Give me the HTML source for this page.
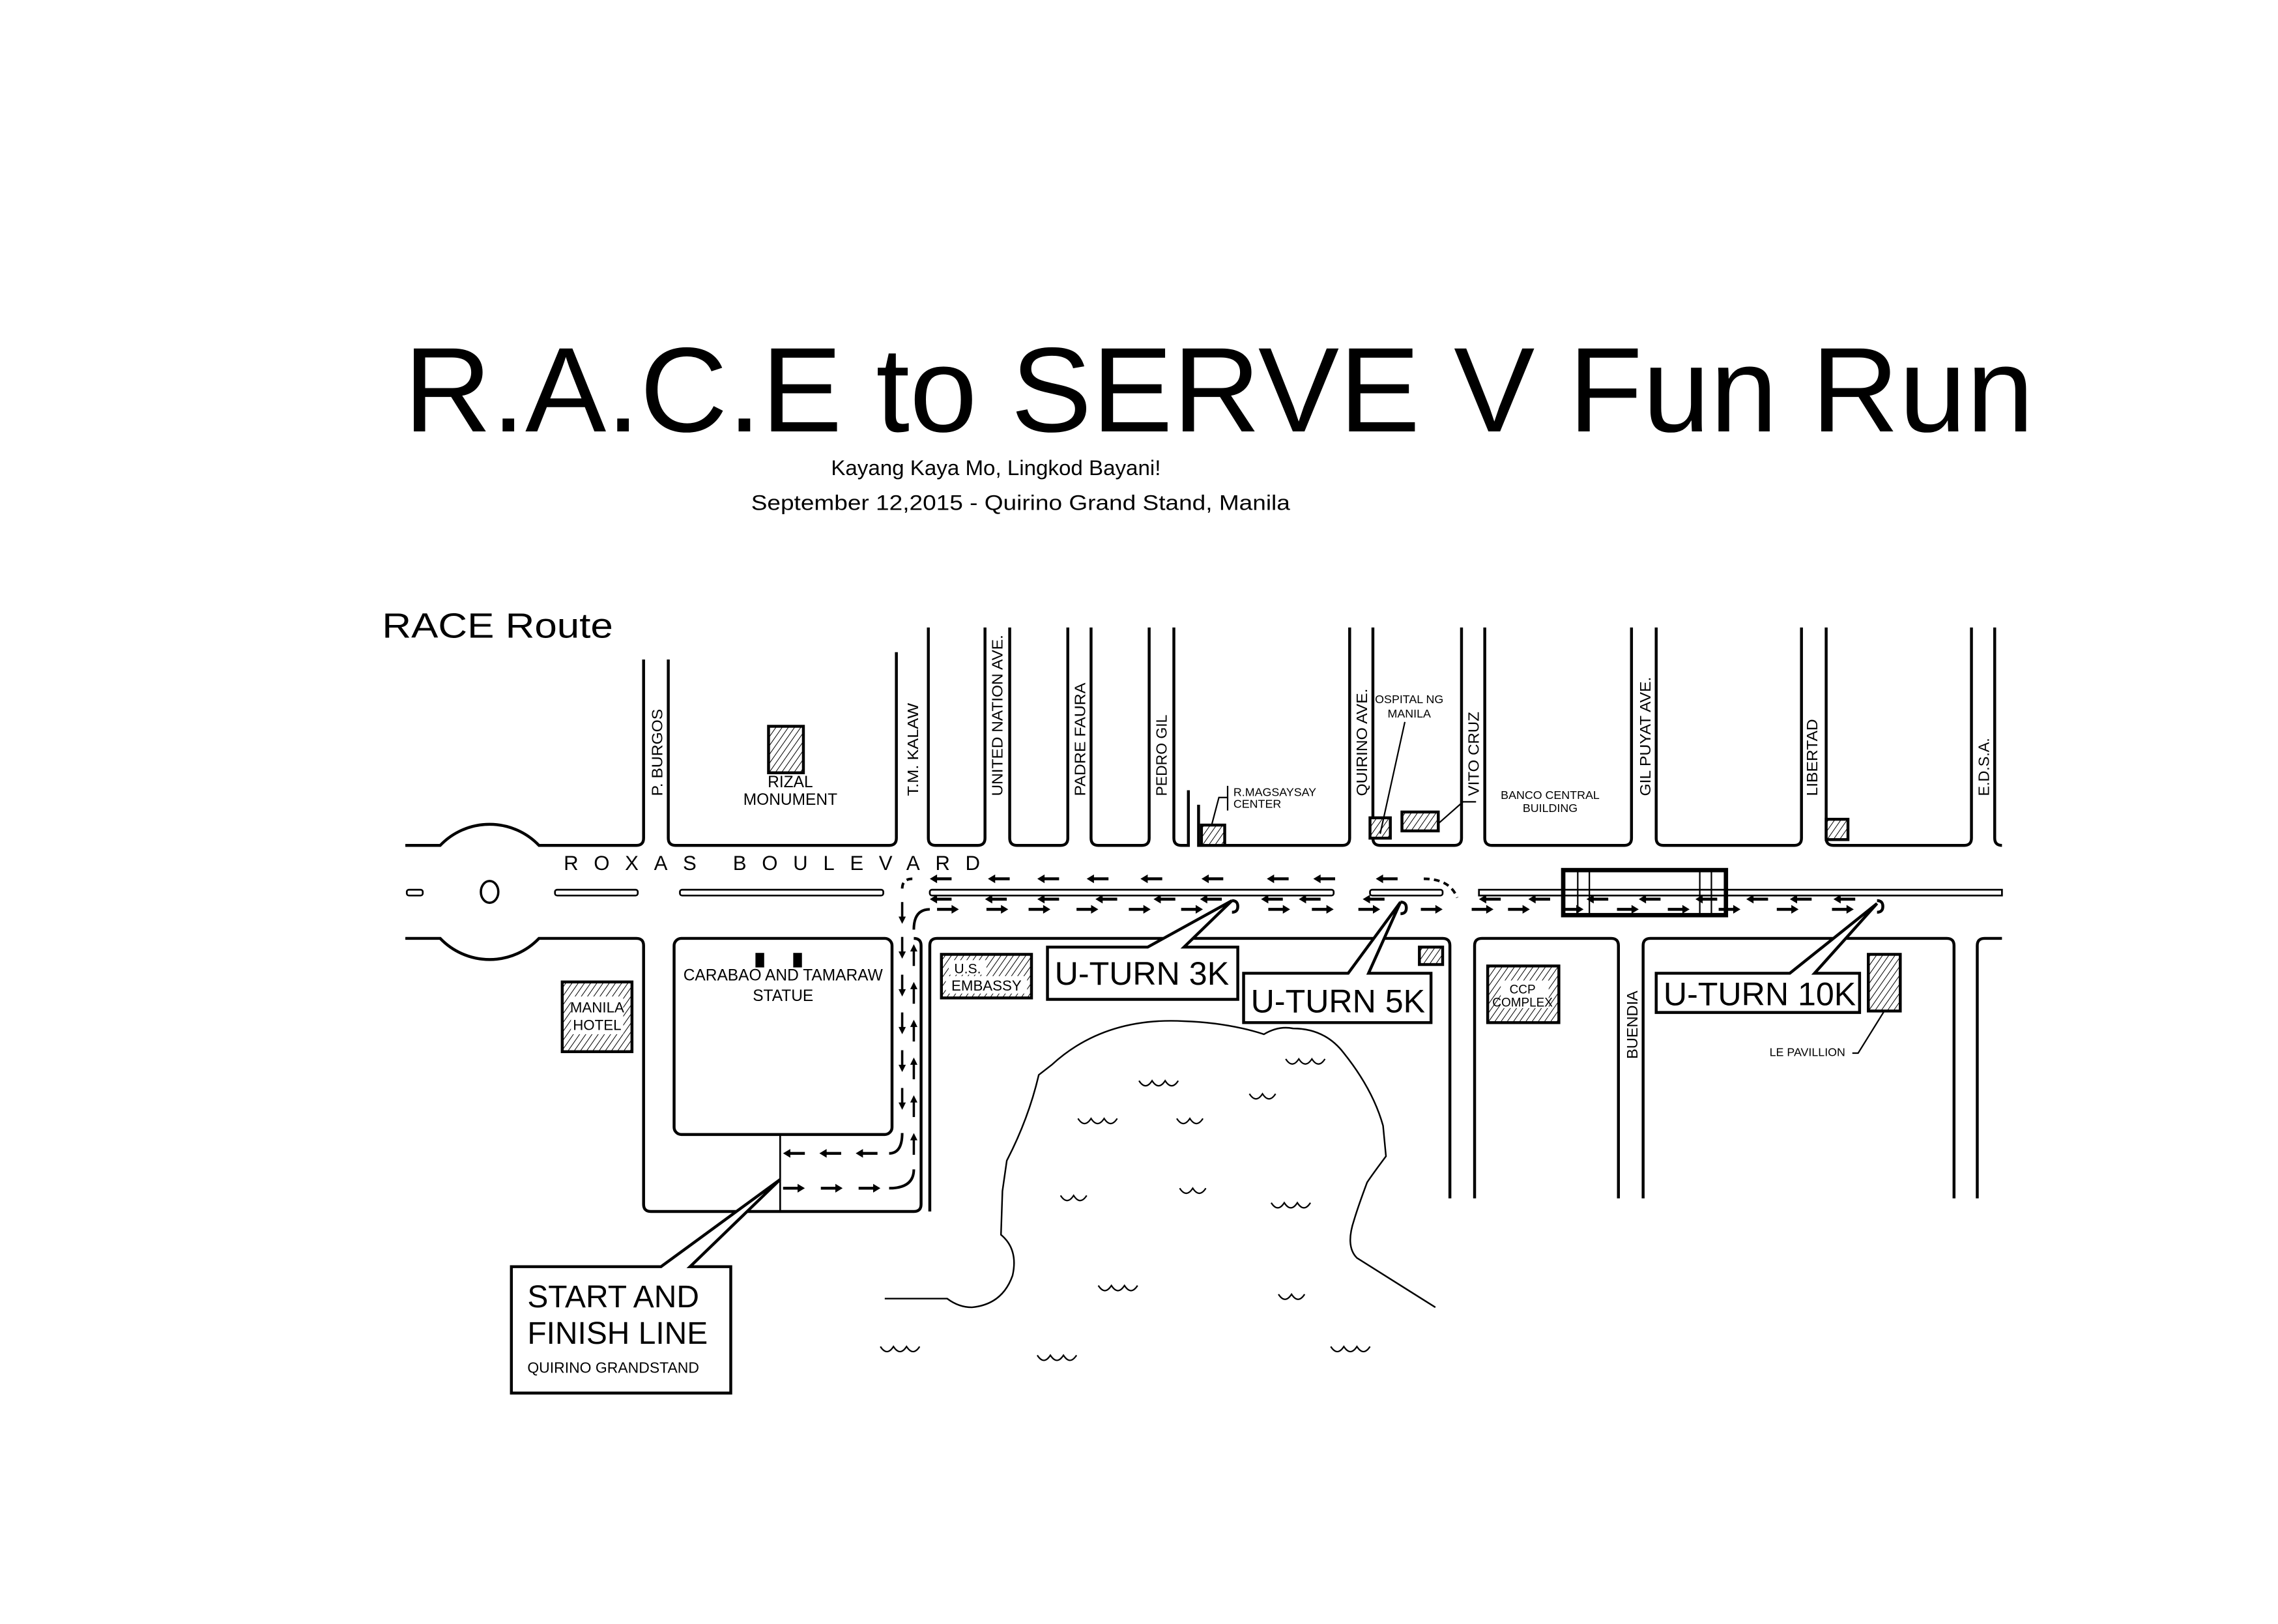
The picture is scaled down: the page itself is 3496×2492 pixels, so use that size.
<!DOCTYPE html>
<html><head><meta charset="utf-8"><style>
html,body{margin:0;padding:0;background:#fff;}
svg{display:block;}
text{font-family:"Liberation Sans",Arial,sans-serif;fill:#000;}
</style></head><body>
<svg xmlns="http://www.w3.org/2000/svg" xmlns:xlink="http://www.w3.org/1999/xlink" width="3496" height="2492" viewBox="0 0 1568 1118" preserveAspectRatio="none">
<defs>
<pattern id="h" patternUnits="userSpaceOnUse" width="3.5" height="3.5" patternTransform="rotate(35)">
<rect width="3.5" height="3.5" fill="#fff"/><line x1="0" y1="0" x2="0" y2="3.5" stroke="#000" stroke-width="0.9"/></pattern>
<g id="aL"><line x1="-4" y1="0" x2="7" y2="0" stroke="#000" stroke-width="2"/><path d="M-8,0 L-3,-3 L-3,3Z" fill="#000"/></g>
<g id="aR"><line x1="-7" y1="0" x2="4" y2="0" stroke="#000" stroke-width="2"/><path d="M8,0 L3,-3 L3,3Z" fill="#000"/></g>
<g id="aD"><line x1="0" y1="-7" x2="0" y2="4" stroke="#000" stroke-width="1.6"/><path d="M0,8 L-2.5,3 L2.5,3Z" fill="#000"/></g>
<g id="aU"><line x1="0" y1="-4" x2="0" y2="7" stroke="#000" stroke-width="1.6"/><path d="M0,-8 L-2.5,-3 L2.5,-3Z" fill="#000"/></g>
<path id="w3" d="M0,0 q4.5,7 9,0 q4.5,7 9,0 q4.5,7 9,0" fill="none" stroke="#000" stroke-width="1"/>
<path id="w2" d="M0,0 q4.5,7 9,0 q4.5,7 9,0" fill="none" stroke="#000" stroke-width="1"/>
</defs>

<!-- Title -->
<text x="278" y="297" font-size="83" textLength="1122" lengthAdjust="spacingAndGlyphs">R.A.C.E to SERVE V Fun Run</text>
<text x="572" y="327" font-size="14.5" textLength="227" lengthAdjust="spacingAndGlyphs">Kayang Kaya Mo, Lingkod Bayani!</text>
<text x="517" y="351" font-size="14.5" textLength="371" lengthAdjust="spacingAndGlyphs">September 12,2015 - Quirino Grand Stand, Manila</text>
<text x="263" y="439" font-size="24" textLength="159" lengthAdjust="spacingAndGlyphs">RACE Route</text>

<g fill="none" stroke="#000" stroke-width="2">
<path d="M279,582 H303 A47,47 0 0 1 371,582 H438 Q443,582 443,577 V454"/>
<path d="M460,454 V577 Q460,582 465,582 H612 Q617,582 617,577 V449"/>
<path d="M639,432 V577 Q639,582 644,582 H673 Q678,582 678,577 V432"/>
<path d="M695,432 V577 Q695,582 700,582 H730 Q735,582 735,577 V432"/>
<path d="M751,432 V577 Q751,582 756,582 H786 Q791,582 791,577 V432"/>
<path d="M808,432 V577 Q808,582 813,582 H818 V544"/>
<path d="M825,554 V582 H924 Q929,582 929,577 V432"/>
<path d="M945,432 V577 Q945,582 950,582 H1001 Q1006,582 1006,577 V432"/>
<path d="M1022,432 V577 Q1022,582 1027,582 H1118 Q1123,582 1123,577 V432"/>
<path d="M1140,432 V577 Q1140,582 1145,582 H1235 Q1240,582 1240,577 V432"/>
<path d="M1257,432 V577 Q1257,582 1262,582 H1352 Q1357,582 1357,577 V432"/>
<path d="M1373,432 V577 Q1373,582 1378,582"/>
<path d="M279,646 H303 A47,47 0 0 0 371,646 H438 Q443,646 443,651 V829 Q443,834 448,834 H629 Q634,834 634,829 V651 Q634,646 629,646"/>
<path d="M640,834 V651 Q640,646 645,646 H993 Q998,646 998,651 V825"/>
<path d="M1015,825 V651 Q1015,646 1020,646 H1109 Q1114,646 1114,651 V825"/>
<path d="M1131,825 V651 Q1131,646 1136,646 H1340 Q1345,646 1345,651 V825"/>
<path d="M1361,825 V651 Q1361,646 1366,646 H1378"/>
<rect x="464" y="646" width="150" height="135" rx="5"/>
<line x1="537" y1="781" x2="537" y2="834" stroke-width="1.2"/>
</g>
<g fill="none" stroke="#000" stroke-width="1.2">
<rect x="280" y="612.5" width="11" height="4" rx="1.5"/>
<rect x="382" y="612.5" width="57" height="4" rx="1.5"/>
<rect x="468" y="612.5" width="140" height="4" rx="1.5"/>
<rect x="640" y="612.5" width="278" height="4" rx="1.5"/>
<rect x="943" y="612.5" width="50" height="4" rx="1.5"/>
<rect x="1018" y="612.5" width="360" height="4"/>
</g>
<ellipse cx="337" cy="614" rx="6" ry="7.5" fill="none" stroke="#000" stroke-width="1.6"/>
<text x="388" y="599" font-size="14" letter-spacing="10.6">ROXAS BOULEVARD</text>

<g fill="none" stroke="#000">
<rect x="1076" y="599" width="112" height="31" stroke-width="3"/>
<line x1="1086" y1="599" x2="1086" y2="630" stroke-width="1"/><line x1="1094" y1="599" x2="1094" y2="630" stroke-width="1"/>
<line x1="1170" y1="599" x2="1170" y2="630" stroke-width="1"/><line x1="1178" y1="599" x2="1178" y2="630" stroke-width="1"/>
</g>

<g font-size="10.5">
<text transform="translate(456,548) rotate(-90)" textLength="60" lengthAdjust="spacingAndGlyphs">P. BURGOS</text>
<text transform="translate(632,548) rotate(-90)" textLength="64" lengthAdjust="spacingAndGlyphs">T.M. KALAW</text>
<text transform="translate(690,548) rotate(-90)" textLength="111" lengthAdjust="spacingAndGlyphs">UNITED NATION AVE.</text>
<text transform="translate(747,548) rotate(-90)" textLength="78" lengthAdjust="spacingAndGlyphs">PADRE FAURA</text>
<text transform="translate(803,548) rotate(-90)" textLength="56" lengthAdjust="spacingAndGlyphs">PEDRO GIL</text>
<text transform="translate(941,548) rotate(-90)" textLength="74" lengthAdjust="spacingAndGlyphs">QUIRINO AVE.</text>
<text transform="translate(1018,548) rotate(-90)" textLength="58" lengthAdjust="spacingAndGlyphs">VITO CRUZ</text>
<text transform="translate(1136,548) rotate(-90)" textLength="82" lengthAdjust="spacingAndGlyphs">GIL PUYAT AVE.</text>
<text transform="translate(1251,548) rotate(-90)" textLength="53" lengthAdjust="spacingAndGlyphs">LIBERTAD</text>
<text transform="translate(1369,548) rotate(-90)" textLength="40" lengthAdjust="spacingAndGlyphs">E.D.S.A.</text>
<text transform="translate(1127,729) rotate(-90)" textLength="47" lengthAdjust="spacingAndGlyphs">BUENDIA</text>
</g>

<g stroke="#000" stroke-width="2" fill="url(#h)">
<rect x="529" y="500" width="24" height="32"/>
<rect x="827" y="568" width="16" height="14"/>
<rect x="943" y="563" width="14" height="14"/>
<rect x="965" y="559" width="25" height="13"/>
<rect x="1257" y="564" width="15" height="14"/>
<rect x="387" y="676" width="48" height="48"/>
<rect x="648" y="657" width="62" height="30"/>
<rect x="977" y="652" width="16" height="12"/>
<rect x="1024" y="665" width="49" height="39"/>
<rect x="1286" y="657" width="22" height="39"/>
</g>
<rect x="520" y="656" width="6" height="10" fill="#000"/><rect x="546" y="656" width="6" height="10" fill="#000"/>
<g text-anchor="middle">
<text x="544" y="542" font-size="11">RIZAL</text>
<text x="544" y="554" font-size="11">MONUMENT</text>
<text x="539" y="675" font-size="11">CARABAO AND TAMARAW</text>
<text x="539" y="689" font-size="11">STATUE</text>
<rect x="393" y="686" width="36" height="26" fill="#fff"/>
<text x="411" y="697" font-size="10">MANILA</text>
<text x="411" y="709" font-size="10">HOTEL</text>
<rect x="653" y="661" width="26" height="10" fill="#fff"/><rect x="651" y="672" width="56" height="12" fill="#fff"/>
<text x="666" y="670" font-size="9.5">U.S.</text>
<text x="679" y="682" font-size="10">EMBASSY</text>
<rect x="1033" y="675" width="33" height="19" fill="#fff"/>
<text x="1048" y="684" font-size="8.5">CCP</text>
<text x="1048" y="693" font-size="8.5">COMPLEX</text>
<text x="970" y="484" font-size="8">OSPITAL NG</text>
<text x="970" y="494" font-size="8">MANILA</text>
<text x="1067" y="550" font-size="8">BANCO CENTRAL</text>
<text x="1067" y="559" font-size="8">BUILDING</text>
</g>
<text x="849" y="548" font-size="8">R.MAGSAYSAY</text>
<text x="849" y="556" font-size="8">CENTER</text>
<text x="1218" y="727" font-size="8">LE PAVILLION</text>
<g stroke="#000" stroke-width="1" fill="none">
<path d="M834,568 L839,549 H845 M845,541 V558"/>
<path d="M950,574 L967,497"/>
<path d="M990,567 L1007,552 H1016"/>
<path d="M1275,725 H1279 L1297,696"/>
</g>

<g fill="#fff" stroke="#000" stroke-width="2">
<path d="M721,652 H790 L848,620 L815,652 H852 V688 H721Z"/>
<path d="M856,670 H928 L964,621 L942,670 H985 V704 H856Z"/>
<path d="M1140,670 H1232 L1292,622 L1249,670 H1280 V697 H1140Z"/>
<path d="M352,872 H455 L537,812 L475,872 H503 V959 H352Z"/>
</g>
<g font-size="22.5">
<text x="726" y="678">U-TURN 3K</text>
<text x="861" y="697">U-TURN 5K</text>
<text x="1145" y="692">U-TURN 10K</text>
</g>
<text x="363" y="900" font-size="21.5">START AND</text>
<text x="363" y="925" font-size="21.5">FINISH LINE</text>
<text x="363" y="945" font-size="10.3">QUIRINO GRANDSTAND</text>

<g fill="none" stroke="#000" stroke-width="1.8">
<path d="M628,605 Q621,605 621,612" stroke-dasharray="4 3"/>
<path d="M980,605 Q998,605 1003,618" stroke-dasharray="4 3"/>
<path d="M621,780 Q621,794 612,794"/>
<path d="M612,818 Q629,818 629,805"/>
<path d="M629,640 Q629,626 640,626"/>
<path d="M848,620 q4,0 4,4 q0,4 -4,4" stroke-width="2"/>
<path d="M964,621 q4,0 4,4 q0,4 -4,4" stroke-width="2"/>
<path d="M1292,620 q4,0 4,4 q0,4 -4,4" stroke-width="2"/>
</g>
<g>
<use href="#aL" x="648" y="605"/><use href="#aL" x="688" y="605"/><use href="#aL" x="722" y="605"/><use href="#aL" x="756" y="605"/><use href="#aL" x="793" y="605"/><use href="#aL" x="835" y="605"/><use href="#aL" x="880" y="605"/><use href="#aL" x="912" y="605"/><use href="#aL" x="955" y="605"/>
<use href="#aL" x="648" y="619"/><use href="#aL" x="686" y="619"/><use href="#aL" x="722" y="619"/><use href="#aL" x="762" y="619"/><use href="#aL" x="802" y="619"/><use href="#aL" x="834" y="619"/><use href="#aL" x="876" y="619"/><use href="#aL" x="902" y="619"/><use href="#aL" x="946" y="619"/><use href="#aL" x="1026" y="619"/><use href="#aL" x="1060" y="619"/><use href="#aL" x="1100" y="619"/><use href="#aL" x="1136" y="619"/><use href="#aL" x="1175" y="619"/><use href="#aL" x="1210" y="619"/><use href="#aL" x="1240" y="619"/><use href="#aL" x="1270" y="619"/>
<use href="#aR" x="652" y="626"/><use href="#aR" x="686" y="626"/><use href="#aR" x="715" y="626"/><use href="#aR" x="748" y="626"/><use href="#aR" x="784" y="626"/><use href="#aR" x="820" y="626"/><use href="#aR" x="880" y="626"/><use href="#aR" x="910" y="626"/><use href="#aR" x="942" y="626"/><use href="#aR" x="985" y="626"/><use href="#aR" x="1020" y="626"/><use href="#aR" x="1045" y="626"/><use href="#aR" x="1082" y="626"/><use href="#aR" x="1120" y="626"/><use href="#aR" x="1155" y="626"/><use href="#aR" x="1190" y="626"/><use href="#aR" x="1230" y="626"/><use href="#aR" x="1268" y="626"/>
<use href="#aD" x="621" y="628"/><use href="#aD" x="621" y="652"/><use href="#aD" x="621" y="678"/><use href="#aD" x="621" y="704"/><use href="#aD" x="621" y="730"/><use href="#aD" x="621" y="756"/>
<use href="#aU" x="629" y="658"/><use href="#aU" x="629" y="684"/><use href="#aU" x="629" y="710"/><use href="#aU" x="629" y="736"/><use href="#aU" x="629" y="762"/><use href="#aU" x="629" y="788"/>
<use href="#aL" x="547" y="794"/><use href="#aL" x="572" y="794"/><use href="#aL" x="597" y="794"/>
<use href="#aR" x="546" y="818"/><use href="#aR" x="572" y="818"/><use href="#aR" x="598" y="818"/>
</g>

<path d="M609,894 H652 Q660,900 669,900 Q690,898 697,878 Q701,860 689,850 L690,820 L693,799 Q708,770 715,740 L724,733 Q760,700 815,703 Q845,704 870,712 Q880,706 890,708 Q912,708 925,725 Q945,750 952,775 L954,796 Q945,808 941,814 Q935,830 932,840 Q926,858 934,866 L988,900" fill="none" stroke="#000" stroke-width="1.1"/>
<use href="#w3" x="885" y="729"/><use href="#w3" x="784" y="744"/><use href="#w2" x="860" y="753"/><use href="#w3" x="742" y="770"/><use href="#w2" x="810" y="770"/><use href="#w2" x="730" y="823"/><use href="#w2" x="812" y="818"/><use href="#w3" x="875" y="828"/><use href="#w3" x="756" y="885"/><use href="#w2" x="880" y="891"/><use href="#w3" x="606" y="927"/><use href="#w3" x="714" y="933"/><use href="#w3" x="916" y="927"/>
</svg>
</body></html>
